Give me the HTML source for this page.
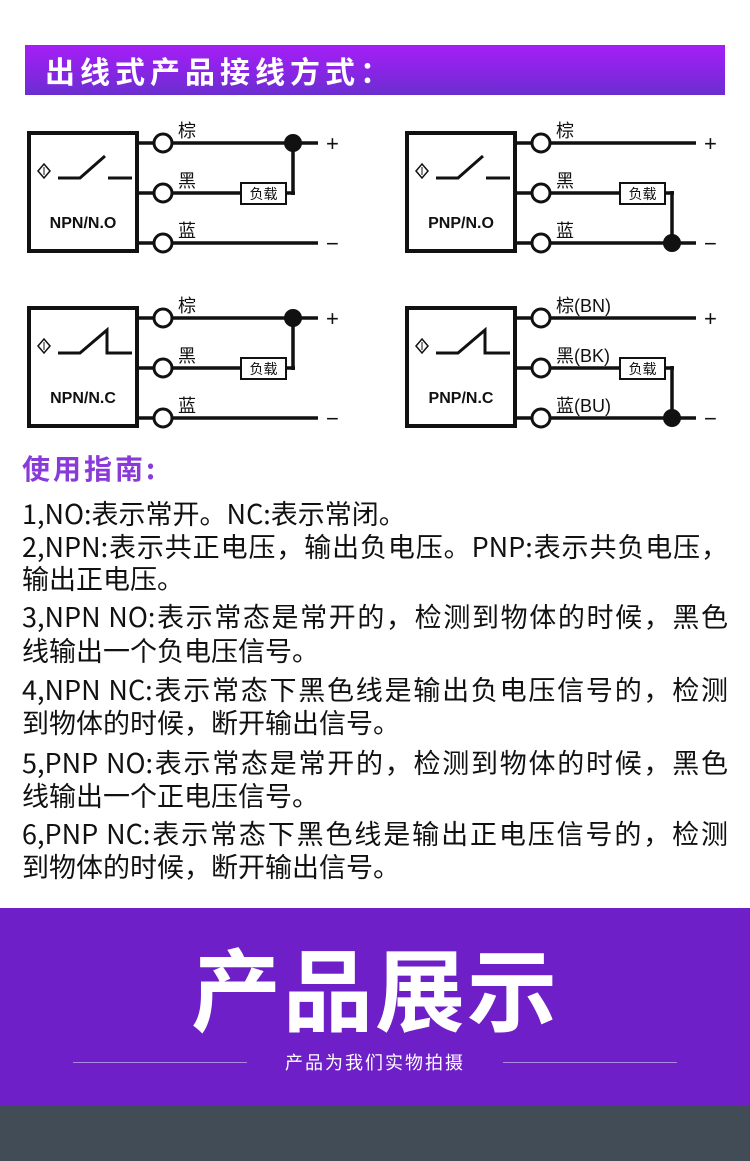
<!DOCTYPE html>
<html><head><meta charset="utf-8"><style>
*{margin:0;padding:0;box-sizing:border-box}
body{width:750px;height:1161px;position:relative;background:#fff;overflow:hidden;font-family:"Liberation Sans","Noto Sans CJK SC",sans-serif}
.title{position:absolute;left:25px;top:45px;width:700px;height:50px;background:linear-gradient(180deg,#a51ff6 0%,#8a24e6 50%,#6a2fd0 100%);color:#fff;font-size:30px;font-weight:bold;line-height:50px;padding-left:20px;letter-spacing:5px;font-family:"Noto Sans CJK SC",sans-serif}
.t{position:absolute;left:22px;width:706px;font-size:27px;line-height:34px;color:#111;white-space:nowrap;font-family:"Noto Sans CJK SC",sans-serif}
.j{text-align:justify;text-align-last:justify}
.guide{position:absolute;left:22px;top:450px;font-size:28px;font-weight:bold;line-height:36px;color:#8a3ad8;letter-spacing:3px;font-family:"Noto Sans CJK SC",sans-serif}
.band{position:absolute;left:0;top:908px;width:750px;height:198px;background:#6e1fc7}
.dark{position:absolute;left:0;top:1106px;width:750px;height:55px;background:#424c57}
.big{position:absolute;left:0;top:925px;width:750px;text-align:center;color:#fff;font-size:90px;line-height:120px;font-weight:bold;letter-spacing:2px;font-family:"Noto Sans CJK SC",sans-serif}
.sub{position:absolute;left:0;top:1048px;width:750px;text-align:center;color:#fff;font-size:18px;line-height:28px;letter-spacing:2px;font-family:"Noto Sans CJK SC",sans-serif}
.ln{position:absolute;top:1062px;height:1px;background:#a88ae0}
</style></head><body>
<div class="title">出线式产品接线方式：</div>

<svg width="750" height="450" style="position:absolute;left:0;top:0" font-family="Liberation Sans, Noto Sans CJK SC, sans-serif">
<defs>
<g id="base">
  <rect x="29" y="133" width="108" height="118" fill="#fff" stroke="#111" stroke-width="4"/>
  <path d="M44 164 L50 171 L44 178 L38 171 Z" fill="none" stroke="#111" stroke-width="1.5"/>
  <line x1="44" y1="167" x2="44" y2="175" stroke="#111" stroke-width="1"/>
  <g stroke="#111" stroke-width="3.5">
    <line x1="139" y1="143" x2="154" y2="143"/>
    <line x1="139" y1="193" x2="154" y2="193"/>
    <line x1="139" y1="243" x2="154" y2="243"/>
  </g>
  <g fill="#fff" stroke="#111" stroke-width="3">
    <circle cx="163" cy="143" r="9"/><circle cx="163" cy="193" r="9"/><circle cx="163" cy="243" r="9"/>
  </g>
  <g font-size="22" fill="#111"><text x="326" y="151">+</text><text x="326" y="251">−</text></g>
</g>
<g id="sno" stroke="#111" stroke-width="3" fill="none"><path d="M58 178 H80 L105 156 M108 178 H132"/></g>
<g id="snc" stroke="#111" stroke-width="3" fill="none"><path d="M58 178 H80 L107 155 V178 H132"/></g>
<g id="npn">
  <g stroke="#111" stroke-width="3.5"><line x1="172" y1="143" x2="318" y2="143"/><line x1="172" y1="193" x2="241" y2="193"/><line x1="286" y1="193" x2="295" y2="193"/><line x1="293" y1="143" x2="293" y2="195"/><line x1="172" y1="243" x2="318" y2="243"/></g>
  <circle cx="293" cy="143" r="9" fill="#111"/>
  <rect x="241" y="183" width="45" height="21" fill="#fff" stroke="#111" stroke-width="2"/>
  <text x="263.5" y="199" font-size="14" text-anchor="middle" fill="#111">负载</text>
</g>
<g id="pnp">
  <g stroke="#111" stroke-width="3.5"><line x1="172" y1="143" x2="318" y2="143"/><line x1="172" y1="193" x2="242" y2="193"/><line x1="287" y1="193" x2="296" y2="193"/><line x1="294" y1="191" x2="294" y2="243"/><line x1="172" y1="243" x2="318" y2="243"/></g>
  <circle cx="294" cy="243" r="9" fill="#111"/>
  <rect x="242" y="183" width="45" height="21" fill="#fff" stroke="#111" stroke-width="2"/>
  <text x="264.5" y="199" font-size="14" text-anchor="middle" fill="#111">负载</text>
</g>
</defs>
<g>
  <use href="#base"/><use href="#sno"/><use href="#npn"/>
  <g font-size="18" fill="#111"><text x="178" y="137">棕</text><text x="178" y="187">黑</text><text x="178" y="237">蓝</text></g>
  <text x="83" y="228" font-size="16" font-weight="bold" text-anchor="middle" fill="#111">NPN/N.O</text>
</g>
<g transform="translate(378,0)">
  <use href="#base"/><use href="#sno"/><use href="#pnp"/>
  <g font-size="18" fill="#111"><text x="178" y="137">棕</text><text x="178" y="187">黑</text><text x="178" y="237">蓝</text></g>
  <text x="83" y="228" font-size="16" font-weight="bold" text-anchor="middle" fill="#111">PNP/N.O</text>
</g>
<g transform="translate(0,175)">
  <use href="#base"/><use href="#snc"/><use href="#npn"/>
  <g font-size="18" fill="#111"><text x="178" y="137">棕</text><text x="178" y="187">黑</text><text x="178" y="237">蓝</text></g>
  <text x="83" y="228" font-size="16" font-weight="bold" text-anchor="middle" fill="#111">NPN/N.C</text>
</g>
<g transform="translate(378,175)">
  <use href="#base"/><use href="#snc"/><use href="#pnp"/>
  <g font-size="18" fill="#111"><text x="178" y="137">棕(BN)</text><text x="178" y="187">黑(BK)</text><text x="178" y="237">蓝(BU)</text></g>
  <text x="83" y="228" font-size="16" font-weight="bold" text-anchor="middle" fill="#111">PNP/N.C</text>
</g>
</svg>

<div class="guide">使用指南:</div>
<div class="t" style="top:496px">1,NO:表示常开。NC:表示常闭。</div>
<div class="t j" style="top:529px">2,NPN:表示共正电压，输出负电压。PNP:表示共负电压，</div>
<div class="t" style="top:561px">输出正电压。</div>
<div class="t j" style="top:599px">3,NPN NO:表示常态是常开的，检测到物体的时候，黑色</div>
<div class="t" style="top:633px">线输出一个负电压信号。</div>
<div class="t j" style="top:672px">4,NPN NC:表示常态下黑色线是输出负电压信号的，检测</div>
<div class="t" style="top:705px">到物体的时候，断开输出信号。</div>
<div class="t j" style="top:745px">5,PNP NO:表示常态是常开的，检测到物体的时候，黑色</div>
<div class="t" style="top:778px">线输出一个正电压信号。</div>
<div class="t j" style="top:816px">6,PNP NC:表示常态下黑色线是输出正电压信号的，检测</div>
<div class="t" style="top:849px">到物体的时候，断开输出信号。</div>

<div class="band"></div>
<div class="big">产品展示</div>
<div class="ln" style="left:73px;width:174px"></div>
<div class="ln" style="left:503px;width:174px"></div>
<div class="sub">产品为我们实物拍摄</div>
<div class="dark"></div>
</body></html>
